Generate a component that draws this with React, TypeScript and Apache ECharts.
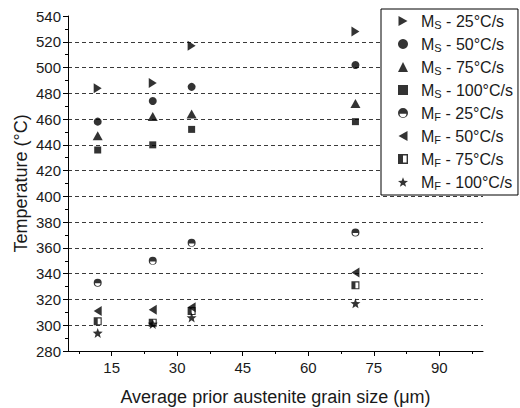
import React, { useEffect, useRef } from 'react';
import * as echarts from 'echarts';

// Prior austenite grain size of the four conditions (µm)
const grainSize = [11.8, 24.4, 33.3, 70.8];

// Martensite start temperatures (°C) per cooling rate
const msAt25 = [484, 488, 517, 528];
const msAt50 = [458, 474, 485, 502];
const msAt75 = [447, 462, 464, 472];
const msAt100 = [436, 440, 452, 458];

// Martensite finish temperatures (°C) per cooling rate
const mfAt25 = [333, 350, 364, 372];
const mfAt50 = [311, 312, 314, 341];
const mfAt75 = [303, 302, 311, 331];
const mfAt100 = [294, 301, 306, 317];

const xLabelValues = [15, 30, 45, 60, 75, 90];
const xMinorTickValues = [7.5, 22.5, 37.5, 52.5, 67.5, 82.5, 97.5];

const FONT = '"Liberation Sans", Arial, Helvetica, sans-serif';
const TEXT = '#1a1a1a';

// Marker shapes
const TRI_RIGHT = 'path://M0,0L9,5L0,10Z';
const TRI_LEFT = 'path://M9,0L0,5L9,10Z';
const HALF_CIRCLE =
  'path://M0,5A5,5 0 1 1 10,5A5,5 0 1 1 0,5Z M1.6,5.8A3.4,3.4 0 0 0 8.4,5.8Z';
const HALF_SQUARE = 'path://M0,0H10V10H0Z M5,1.4V8.6H8.6V1.4Z';
const STAR =
  'path://M5,0L6.234,3.301L9.755,3.455L6.997,5.649L7.939,9.045L5,7.1L2.061,9.045L3.003,5.649L0.245,3.455L3.766,3.301Z';

const seriesDefs = [
  { name: 'MS - 25°C/s', values: msAt25, symbol: TRI_RIGHT, size: [8, 10] },
  { name: 'MS - 50°C/s', values: msAt50, symbol: 'circle', size: 8 },
  { name: 'MS - 75°C/s', values: msAt75, symbol: 'triangle', size: [10, 9] },
  { name: 'MS - 100°C/s', values: msAt100, symbol: 'rect', size: 7 },
  { name: 'MF - 25°C/s', values: mfAt25, symbol: HALF_CIRCLE, size: 8 },
  { name: 'MF - 50°C/s', values: mfAt50, symbol: TRI_LEFT, size: [8, 10] },
  { name: 'MF - 75°C/s', values: mfAt75, symbol: HALF_SQUARE, size: 8 },
  { name: 'MF - 100°C/s', values: mfAt100, symbol: STAR, size: 10 },
];

export default function App() {
  const ref = useRef<HTMLDivElement>(null);

  useEffect(() => {
    if (!ref.current) return;
    const chart = echarts.init(ref.current, null, { renderer: 'svg' });

    const option: any = {
      animation: false,
      backgroundColor: '#fff',
      textStyle: { fontFamily: FONT },
      grid: { left: 68, right: 37, top: 16, bottom: 57, outerBoundsMode: 'none' },
      xAxis: [
        {
          type: 'value',
          min: 5,
          max: 100,
          name: 'Average prior austenite grain size (μm)',
          nameLocation: 'middle',
          nameGap: 37,
          nameMoveOverlap: false,
          nameTextStyle: { fontSize: 18, color: TEXT, fontFamily: FONT },
          axisLine: { onZero: false, lineStyle: { color: '#000', width: 1 } },
          axisTick: {
            show: true,
            inside: false,
            length: 5,
            customValues: xLabelValues,
            lineStyle: { color: '#000' },
          },
          axisLabel: {
            customValues: xLabelValues,
            fontSize: 15,
            color: TEXT,
            margin: 9,
            fontFamily: FONT,
          },
          splitLine: { show: false },
        },
        {
          type: 'value',
          min: 5,
          max: 100,
          position: 'bottom',
          axisLine: { show: false },
          axisTick: {
            show: true,
            inside: false,
            length: 3,
            customValues: xMinorTickValues,
            lineStyle: { color: '#000' },
          },
          axisLabel: { show: false },
          splitLine: { show: false },
        },
      ],
      yAxis: {
        type: 'value',
        min: 280,
        max: 540,
        interval: 20,
        name: 'Temperature (°C)',
        nameLocation: 'middle',
        nameGap: 38,
        nameMoveOverlap: false,
        nameTextStyle: { fontSize: 18, color: TEXT, fontFamily: FONT },
        axisLine: { show: true, onZero: false, lineStyle: { color: '#000', width: 1 } },
        axisTick: { show: true, inside: false, length: 5, lineStyle: { color: '#000' } },
        minorTick: { show: true, splitNumber: 2, length: 3, lineStyle: { color: '#000' } },
        axisLabel: { fontSize: 15, color: TEXT, margin: 7, fontFamily: FONT },
        splitLine: {
          show: true,
          showMinLine: false,
          showMaxLine: false,
          lineStyle: { type: [4, 3], color: '#3a3a3a', width: 1 },
        },
      },
      legend: {
        orient: 'vertical',
        left: 381,
        top: 9,
        padding: [3, 5, 4, 17],
        itemWidth: 10,
        itemHeight: 10,
        itemGap: 5,
        selectedMode: false,
        backgroundColor: '#fff',
        borderColor: '#000',
        borderWidth: 1,
        borderRadius: 0,
        data: seriesDefs.map((s) => s.name),
        formatter: (name: string) =>
          `{m|M}{s|${name.charAt(1)}}{t|${name.slice(2)}}`,
        textStyle: {
          color: TEXT,
          fontFamily: FONT,
          fontSize: 16,
          lineHeight: 18,
          rich: {
            m: { fontSize: 16, lineHeight: 18, padding: [0, 0, 0, 8], color: TEXT, fontFamily: FONT },
            s: { fontSize: 11, lineHeight: 9, verticalAlign: 'bottom', color: TEXT, fontFamily: FONT },
            t: { fontSize: 16, lineHeight: 18, color: TEXT, fontFamily: FONT },
          },
        },
      },
      series: seriesDefs.map((s) => ({
        name: s.name,
        type: 'scatter',
        symbol: s.symbol,
        symbolSize: s.size,
        itemStyle: { color: '#000' },
        data: grainSize.map((x, i) => [x, s.values[i]]),
      })),
    };

    chart.setOption(option);
    return () => chart.dispose();
  }, []);

  return (
    <div
      ref={ref}
      style={{ position: 'fixed', left: 0, top: 0, width: 520, height: 408, background: '#fff' }}
    />
  );
}
